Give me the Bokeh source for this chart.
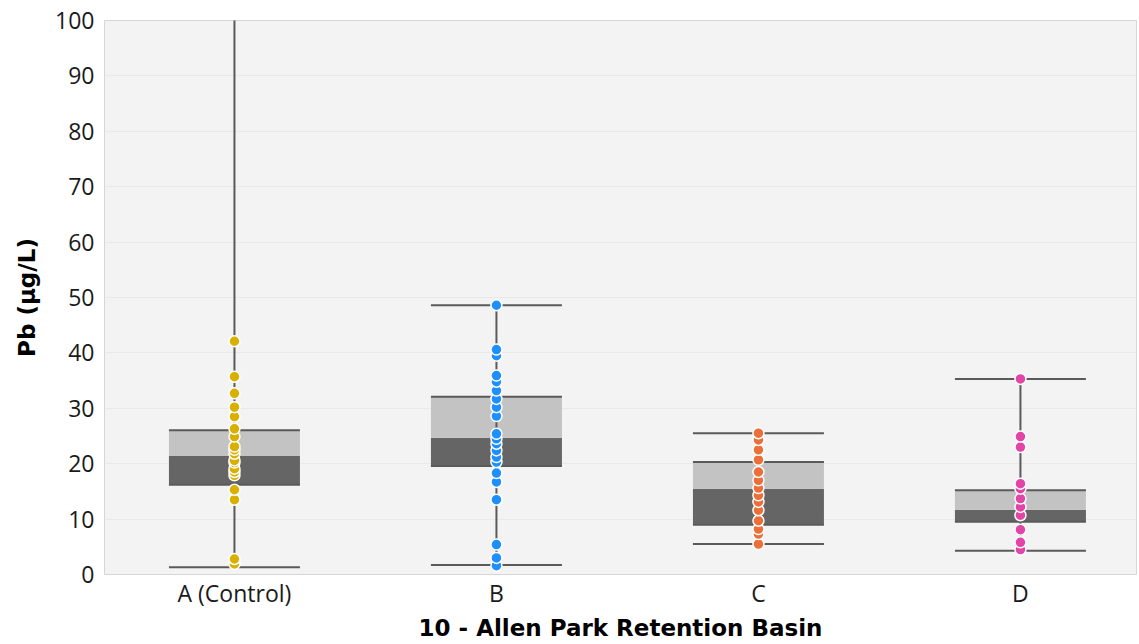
from bokeh.plotting import figure
from bokeh.models import Range1d, FixedTicker, ColumnDataSource
from bokeh.embed import file_html
from bokeh.resources import INLINE

# ---- data ----
categories = ["A (Control)", "B", "C", "D"]
colors = ["#d9b000", "#1e8fff", "#ec6f37", "#e245a6"]

lower_whisker = [1.3, 1.7, 5.5, 4.3]
q1 = [16.2, 19.6, 9.0, 9.5]
median = [21.4, 24.7, 15.5, 11.7]
q3 = [26.05, 32.1, 20.3, 15.2]
upper_whisker = [130.0, 48.6, 25.5, 35.3]

points_a = [1.9, 2.8, 13.5, 15.3, 17.9, 18.5, 19.1, 20.2, 20.6, 21.8, 22.5,
            23.1, 24.9, 26.3, 28.5, 30.2, 32.7, 35.7, 42.1]
points_b = [1.6, 3.0, 5.4, 13.5, 16.7, 18.3, 20.3, 21.2, 22.4, 23.6, 24.5,
            25.4, 28.6, 30.2, 31.7, 33.2, 34.8, 35.9, 39.5, 40.6, 48.6]
points_c = [5.5, 7.3, 8.2, 9.7, 11.6, 13.1, 14.3, 15.6, 17.0, 18.5, 20.7,
            22.5, 24.3, 25.5]
points_d = [4.5, 5.8, 8.1, 10.7, 12.2, 13.7, 15.5, 16.4, 23.0, 24.9, 35.3]
all_points = [points_a, points_b, points_c, points_d]

y_ticks = list(range(0, 101, 10))
x_title = "10 - Allen Park Retention Basin"
y_title = "Pb (µg/L)"

# ---- figure ----
p = figure(width=1139, height=644, output_backend="svg", toolbar_location=None,
           x_range=Range1d(-0.496, 3.443), y_range=Range1d(0, 100),
           min_border_left=104, min_border_right=3, min_border_top=20,
           min_border_bottom=70)
p.background_fill_color = "#f3f3f3"
p.border_fill_color = "white"
p.outline_line_color = "#d6d6d6"
p.outline_line_width = 1

idx = list(range(len(categories)))
half = 0.25

box_src = ColumnDataSource(dict(
    x=idx, q1=q1, med=median, q3=q3, lo=lower_whisker, hi=upper_whisker,
    x0=[i - half for i in idx], x1=[i + half for i in idx]))

# boxes
p.vbar(x="x", bottom="q1", top="med", width=2 * half, source=box_src,
       fill_color="#656565", line_color=None)
p.vbar(x="x", bottom="med", top="q3", width=2 * half, source=box_src,
       fill_color="#c3c3c3", line_color=None)
# box edges & whisker caps
for key in ["q1", "q3", "lo", "hi"]:
    p.segment(x0="x0", y0=key, x1="x1", y1=key, source=box_src,
              line_color="#5a5a5a", line_width=2)
# whisker stem
p.segment(x0="x", y0="lo", x1="x", y1="hi", source=box_src,
          line_color="#5a5a5a", line_width=2)

# points
for i, pts in enumerate(all_points):
    p.scatter(x=[i] * len(pts), y=pts, size=11, fill_color=colors[i],
              line_color="white", line_width=1.5)

# axes
p.yaxis.ticker = FixedTicker(ticks=y_ticks)
p.xaxis.ticker = FixedTicker(ticks=idx)
p.xaxis.major_label_overrides = {i: c for i, c in enumerate(categories)}
for ax in (p.xaxis[0], p.yaxis[0]):
    ax.axis_line_color = None
    ax.major_tick_line_color = None
    ax.minor_tick_line_color = None
    ax.major_tick_out = 0
    ax.major_tick_in = 0
    ax.minor_tick_out = 0
    ax.major_label_text_font = "Open Sans"
    ax.major_label_text_font_size = "23px"
    ax.major_label_text_color = "#1a1a1a"
    ax.axis_label_text_font = "DejaVu Sans"
    ax.axis_label_text_font_style = "bold"
    ax.axis_label_text_font_size = "23px"
    ax.axis_label_text_color = "black"
p.xaxis.axis_label = x_title
p.yaxis.axis_label = y_title
p.xaxis.major_label_standoff = 2
p.xaxis.axis_label_standoff = 3
p.yaxis.major_label_standoff = 10
p.yaxis.axis_label_standoff = 12

p.xgrid.grid_line_color = None
p.ygrid.grid_line_color = "#e9e9e9"
p.ygrid.ticker = FixedTicker(ticks=y_ticks)

open("out.html", "w").write(file_html(p, INLINE))
